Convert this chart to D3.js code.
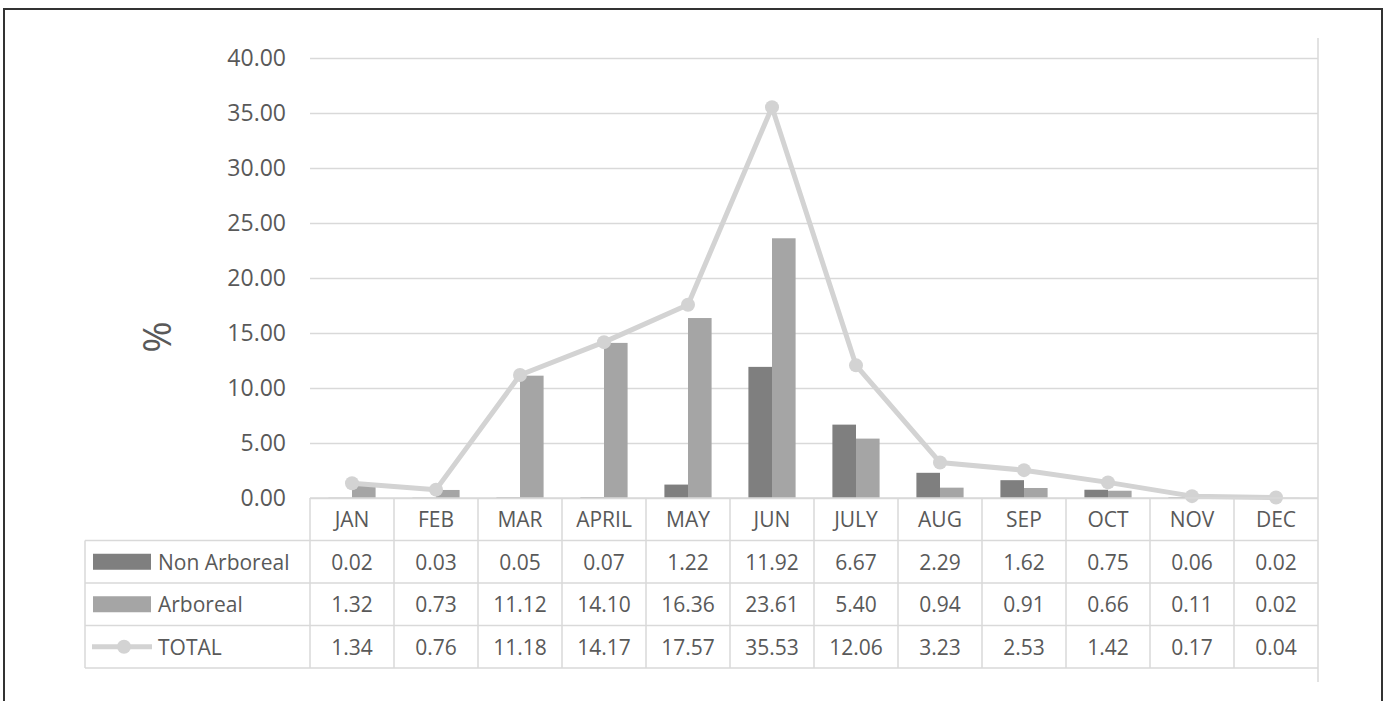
<!DOCTYPE html>
<html lang="en">
<head>
    <meta charset="UTF-8">
    <title>Monthly pollen percentages</title>
    <script src="https://d3js.org/d3.v7.min.js"></script>
    <style>
        body{
            margin: 0;
            background: #fff;
        }
        text{
            font-family: "Open Sans", sans-serif;
            fill: #595959;
        }
    </style>
</head>
<body>
<svg id="chart" width="1386" height="701"></svg>
<script>
    // values
    let months = ["JAN", "FEB", "MAR", "APRIL", "MAY", "JUN", "JULY", "AUG", "SEP", "OCT", "NOV", "DEC"]
    let nonArboreal = [0.02, 0.03, 0.05, 0.07, 1.22, 11.92, 6.67, 2.29, 1.62, 0.75, 0.06, 0.02]
    let arboreal = [1.32, 0.73, 11.12, 14.10, 16.36, 23.61, 5.40, 0.94, 0.91, 0.66, 0.11, 0.02]
    let total = [1.34, 0.76, 11.18, 14.17, 17.57, 35.53, 12.06, 3.23, 2.53, 1.42, 0.17, 0.04]
    let yTicks = [0, 5, 10, 15, 20, 25, 30, 35, 40]

    let seriesNames = ["Non Arboreal", "Arboreal", "TOTAL"]
    let seriesValues = [nonArboreal, arboreal, total]
    let colors = {nonArb: "#7f7f7f", arb: "#a5a5a5", total: "#d3d3d3", grid: "#d9d9d9"}

    let svg = d3.select("#chart")

    // outer frame
    svg.append("rect")
        .attr("x", 4).attr("y", 9)
        .attr("width", 1378).attr("height", 720)
        .attr("fill", "none")
        .attr("stroke", "#333")
        .attr("stroke-width", 2)

    let plot = {left: 310, right: 1318, top: 58, bottom: 498}
    let rowH = 42.5
    let tableLeft = 85

    let x = d3.scaleBand()
        .domain(months)
        .range([plot.left, plot.right])

    let y = d3.scaleLinear()
        .domain([0, 40])
        .range([plot.bottom, plot.top])

    let inner = d3.scaleBand()
        .domain(["nonArb", "arb"])
        .range([0, x.bandwidth()])
        .paddingInner(0)
        .paddingOuter(0.78)

    // gridlines + tick labels
    let yAxis = d3.axisLeft(y)
        .tickValues(yTicks)
        .tickFormat(d3.format(".2f"))
        .tickSize(-(plot.right - plot.left))
        .tickPadding(24)

    let gy = svg.append("g")
        .attr("transform", `translate(${plot.left},0)`)
        .call(yAxis)
    gy.select(".domain").remove()
    gy.selectAll(".tick line")
        .attr("stroke", colors.grid)
        .attr("stroke-width", 1.5)
    gy.selectAll(".tick text")
        .style("font-size", "23px")
        .style("font-family", "'Open Sans', sans-serif")
        .style("fill", "#595959")

    // y title
    svg.append("text")
        .attr("transform", `translate(171,337) rotate(-90)`)
        .attr("text-anchor", "middle")
        .style("font-size", "38px")
        .text("%")

    // right border line of plot area
    svg.append("line")
        .attr("x1", plot.right).attr("x2", plot.right)
        .attr("y1", 38).attr("y2", 682)
        .attr("stroke", colors.grid).attr("stroke-width", 1.5)

    // bars
    let barGroups = svg.append("g")
    barGroups.selectAll("rect.nonArb")
        .data(months)
        .join("rect")
        .attr("class", "nonArb")
        .attr("x", (d) => x(d) + inner("nonArb"))
        .attr("width", inner.bandwidth())
        .attr("y", (d, i) => y(nonArboreal[i]))
        .attr("height", (d, i) => y(0) - y(nonArboreal[i]))
        .attr("fill", colors.nonArb)

    barGroups.selectAll("rect.arb")
        .data(months)
        .join("rect")
        .attr("class", "arb")
        .attr("x", (d) => x(d) + inner("arb"))
        .attr("width", inner.bandwidth())
        .attr("y", (d, i) => y(arboreal[i]))
        .attr("height", (d, i) => y(0) - y(arboreal[i]))
        .attr("fill", colors.arb)

    // total line
    let line = d3.line()
        .x((d, i) => x(months[i]) + x.bandwidth() / 2)
        .y((d) => y(d))

    svg.append("path")
        .datum(total)
        .attr("d", line)
        .attr("fill", "none")
        .attr("stroke", colors.total)
        .attr("stroke-width", 5)
        .attr("stroke-linejoin", "round")

    svg.append("g").selectAll("circle")
        .data(total)
        .join("circle")
        .attr("cx", (d, i) => x(months[i]) + x.bandwidth() / 2)
        .attr("cy", (d) => y(d))
        .attr("r", 7)
        .attr("fill", colors.total)

    // data table
    let table = svg.append("g")
    let tableBottom = plot.bottom + rowH * 4

    // horizontal lines
    table.append("line")
        .attr("x1", plot.left).attr("x2", plot.right)
        .attr("y1", plot.bottom).attr("y2", plot.bottom)
        .attr("stroke", colors.grid).attr("stroke-width", 1.5)
    for (let r = 1; r <= 4; r++) {
        table.append("line")
            .attr("x1", tableLeft).attr("x2", plot.right)
            .attr("y1", plot.bottom + rowH * r).attr("y2", plot.bottom + rowH * r)
            .attr("stroke", colors.grid).attr("stroke-width", 1.5)
    }
    // vertical lines
    table.append("line")
        .attr("x1", tableLeft).attr("x2", tableLeft)
        .attr("y1", plot.bottom + rowH).attr("y2", tableBottom)
        .attr("stroke", colors.grid).attr("stroke-width", 1.5)
    months.forEach((m) => {
        table.append("line")
            .attr("x1", x(m)).attr("x2", x(m))
            .attr("y1", plot.bottom).attr("y2", tableBottom)
            .attr("stroke", colors.grid).attr("stroke-width", 1.5)
    })

    // header labels
    table.selectAll("text.month")
        .data(months)
        .join("text")
        .attr("class", "month")
        .attr("x", (d) => x(d) + x.bandwidth() / 2)
        .attr("y", plot.bottom + rowH / 2 + 8)
        .attr("text-anchor", "middle")
        .style("font-size", "21px")
        .text((d) => d)

    // rows
    seriesNames.forEach((name, r) => {
        let rowMid = plot.bottom + rowH * (r + 1) + rowH / 2
        seriesValues[r].forEach((v, i) => {
            table.append("text")
                .attr("x", x(months[i]) + x.bandwidth() / 2)
                .attr("y", rowMid + 8)
                .attr("text-anchor", "middle")
                .style("font-size", "21px")
                .text(d3.format(".2f")(v))
        })
        // legend key
        if (r < 2) {
            table.append("rect")
                .attr("x", 93).attr("y", rowMid - 8)
                .attr("width", 58).attr("height", 16)
                .attr("fill", r === 0 ? colors.nonArb : colors.arb)
        } else {
            table.append("line")
                .attr("x1", 92).attr("x2", 152)
                .attr("y1", rowMid).attr("y2", rowMid)
                .attr("stroke", colors.total).attr("stroke-width", 5)
            table.append("circle")
                .attr("cx", 124).attr("cy", rowMid)
                .attr("r", 7)
                .attr("fill", colors.total)
        }
        table.append("text")
            .attr("x", 158)
            .attr("y", rowMid + 8)
            .style("font-size", "21px")
            .text(name)
    })
</script>
</body>
</html>
